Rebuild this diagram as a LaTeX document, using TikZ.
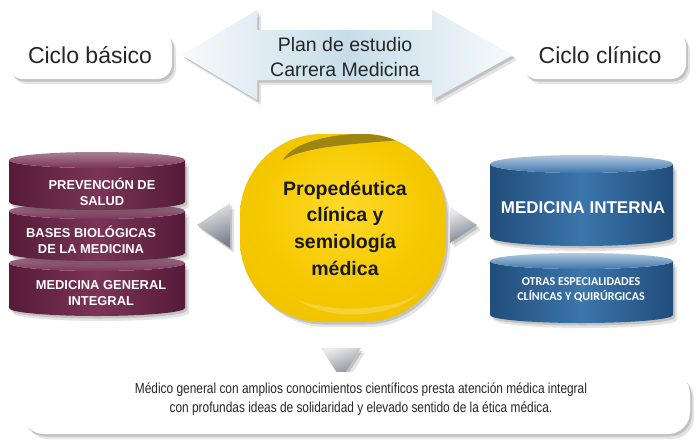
\documentclass[tikz,border=0pt]{standalone}
\usepackage{fontspec}
\setmainfont{Liberation Sans}
\newfontfamily\narrowfont[FakeStretch=0.82]{Liberation Sans}
\newfontfamily\calfont{Carlito}
\usetikzlibrary{shadows}
\definecolor{burgedge}{HTML}{561B38}
\definecolor{burgmid}{HTML}{7B3457}
\definecolor{burgtop}{HTML}{A87F94}
\definecolor{blueedge}{HTML}{214D7A}
\definecolor{bluemid}{HTML}{3B76AC}
\definecolor{bluetop}{HTML}{B4CADF}
\definecolor{yelc}{HTML}{FFD92A}
\definecolor{yel}{HTML}{F5C900}
\definecolor{yeltwo}{HTML}{EDBE00}
\definecolor{yeldark}{HTML}{C49600}
\definecolor{yelfold}{HTML}{8E7A16}
\definecolor{arrowblue}{HTML}{C6DDE9}
\definecolor{trigray}{HTML}{76818F}
\pgfdeclareradialshading{yelshade}{\pgfpoint{0bp}{6bp}}{color(0bp)=(yelc); color(20bp)=(yel); color(38bp)=(yeltwo); color(46bp)=(yeldark); color(52bp)=(yeldark)}
\newcommand\cylseg[8]{%
  \pgfmathsetmacro\rxx{(#2-#1)/2}%
  \pgfmathsetmacro\cxx{(#1+#2)/2}%
  \path[left color=#6,right color=#6,middle color=#7,softshadow]
    (#1,#3) -- (#1,#4) arc[start angle=180,end angle=0,x radius=\rxx,y radius=#5]
    -- (#2,#3) arc[start angle=0,end angle=180,x radius=\rxx,y radius=#5] -- cycle;
  \path[top color=#8,bottom color=#7] (\cxx,#3) ellipse[x radius=\rxx,y radius=#5];
}
\tikzset{
  softshadow/.style={drop shadow={shadow xshift=4pt,shadow yshift=-5pt,opacity=0.15,fill=black!70},
                     drop shadow={shadow xshift=2pt,shadow yshift=-2.5pt,opacity=0.22,fill=black!70}},
  cicbox/.style={draw=none,fill=white,rounded corners=15pt,minimum width=164pt,minimum height=48pt,
                 softshadow,font=\fontsize{23}{27}\selectfont,text=black!85},
  cyltext/.style={align=center,text=white,font=\bfseries\fontsize{12.9}{15.5}\selectfont},
  tri/.style={top color=white!92!black,bottom color=trigray,shading angle=20,softshadow},
}
\begin{document}
\begin{tikzpicture}[x=1pt,y=-1pt]
\useasboundingbox (0,0) rectangle (698,445);
\fill[white] (0,0) rectangle (698,445);

% double arrow
\path[left color=white!85!arrowblue,right color=white!85!arrowblue,middle color=arrowblue,softshadow]
  (182,55) -- (257,10) -- (257,30) -- (432,30) -- (432,10) -- (513,55)
  -- (432,100) -- (432,80) -- (257,80) -- (257,100) -- cycle;
\node[font=\fontsize{19.5}{25}\selectfont,align=center,text=black!85] (plan) at (345,57) {Plan de estudio\\Carrera Medicina};

% top boxes
\node[cicbox] (basico) at (90,55) {Ciclo básico};
\node[cicbox] (clinico) at (604,55) {\hspace*{-8pt}Ciclo clínico};

% left stack
\cylseg{9}{185}{263}{308}{8}{burgedge}{burgmid}{burgtop}
\cylseg{9}{185}{211}{253}{8}{burgedge}{burgmid}{burgtop}
\cylseg{9}{185}{160}{202}{8}{burgedge}{burgmid}{burgtop}
\node[cyltext] (prev) at (102,192) {PREVENCIÓN DE\\SALUD};
\node[cyltext] (bases) at (91,240) {BASES BIOLÓGICAS\\DE LA MEDICINA};
\node[cyltext] (mgi) at (101,293) {MEDICINA GENERAL\\INTEGRAL};

% right stack
\cylseg{490}{673}{261}{315}{8}{blueedge}{bluemid}{bluetop}
\cylseg{490}{673}{164}{237}{9}{blueedge}{bluemid}{bluetop}
\node[text=white,font=\bfseries\fontsize{17}{20}\selectfont] (interna) at (583,208) {MEDICINA INTERNA};
\node[align=center,text=white,font=\calfont\bfseries\fontsize{12}{15}\selectfont] (otras) at (581,290) {OTRAS ESPECIALIDADES\\CLÍNICAS Y QUIRÚRGICAS};

% central shape
\path[shading=yelshade,rounded corners=82pt,softshadow]
  (240,134) rectangle (446,322);
\begin{scope}
  \clip[rounded corners=82pt] (240,134) rectangle (446,322);
  \fill[yelfold,opacity=0.85] (283,160) .. controls (298,133) and (378,128) .. (400,140)
    .. controls (372,143) and (306,145) .. (283,160) -- cycle;
  \fill[white,opacity=0.22] (298,300) .. controls (330,322) and (392,318) .. (418,294)
    .. controls (394,310) and (334,314) .. (298,300) -- cycle;
\end{scope}
\node[align=center,text=black!90,font=\bfseries\fontsize{19.5}{26.7}\selectfont] (prop) at (345,228)
  {Propedéutica\\clínica y\\semiología\\médica};

% triangles
\path[tri] (197,225) -- (230,203) -- (230,248) -- cycle;
\path[tri] (477,225) -- (450,207) -- (450,243) -- cycle;
\path[tri] (321,348) -- (361,348) -- (341,379) -- cycle;

% bottom box
\node[fill=white,rounded corners=22pt,minimum width=668pt,minimum height=62pt,softshadow] (medico) at (356,403) {};
\node[align=center,text=black!85,font=\narrowfont\fontsize{14.5}{19.5}\selectfont] (medtext) at (361,399)
  {Médico general con amplios conocimientos científicos presta atención médica integral\\
   con profundas ideas de solidaridad y elevado sentido de la ética médica.};
\end{tikzpicture}
\end{document}
